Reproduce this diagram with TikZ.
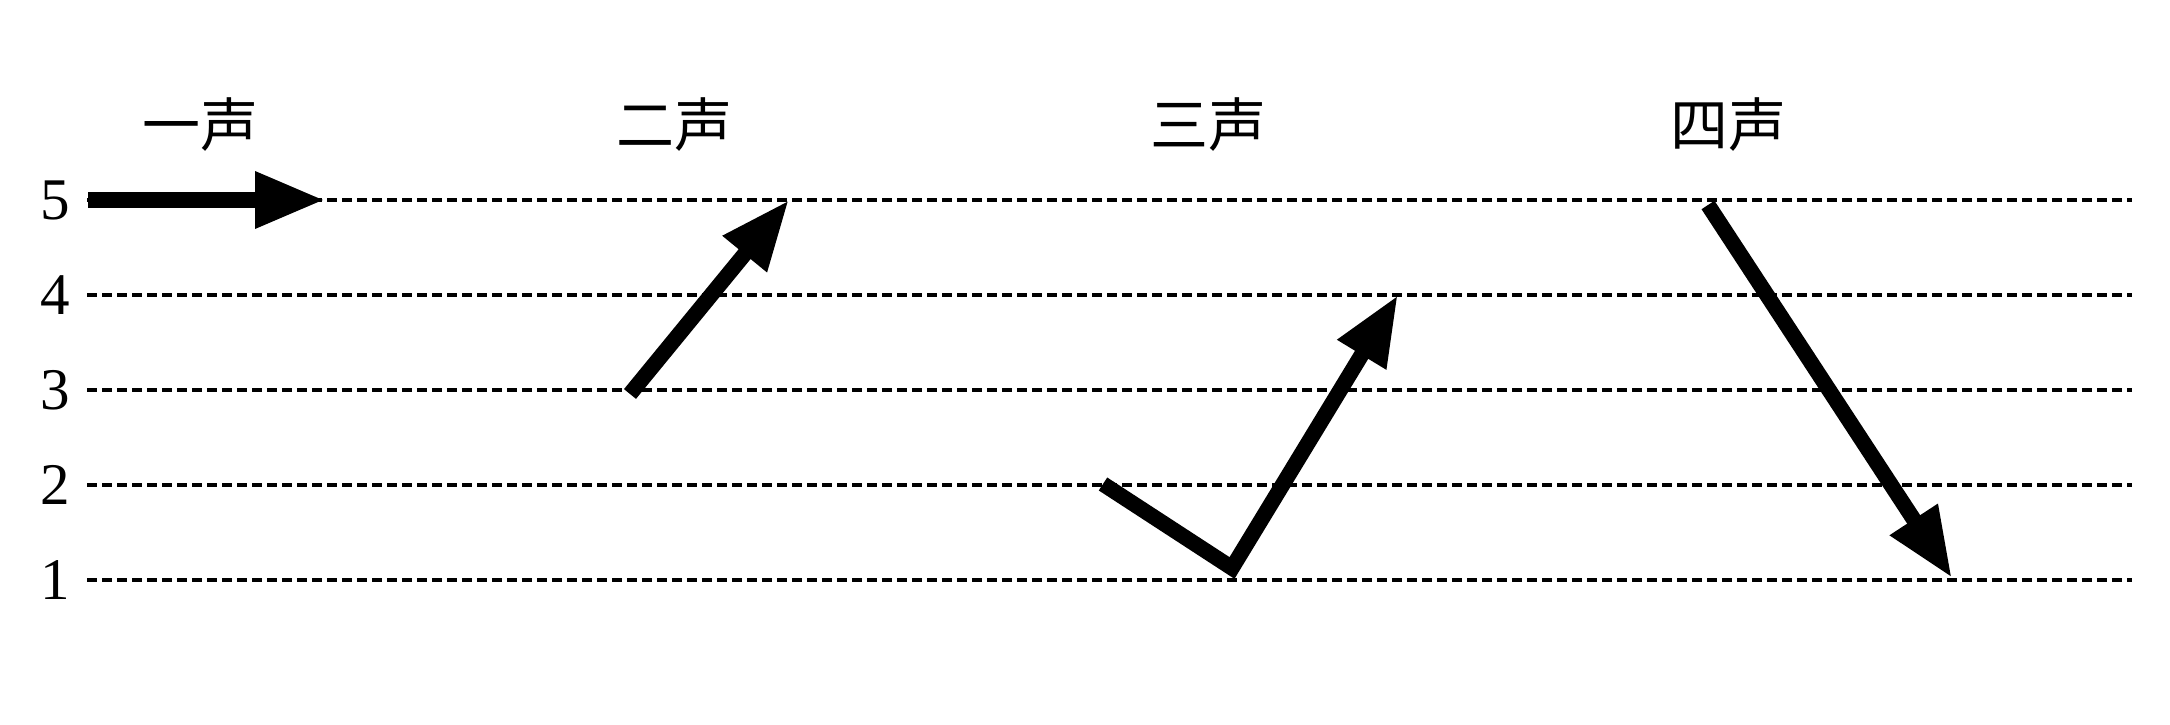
\documentclass[tikz,border=0pt]{standalone}
\usepackage{fontspec}
\setmainfont{Liberation Serif}
\newfontfamily\cjk{Noto Sans CJK SC}
\usetikzlibrary{arrows.meta}
\tikzstyle{level}=[line width=.035cm,dash pattern=on .10cm off .05cm]
\tikzstyle{tonehead}=[>/.tip={Triangle[length=.70cm,width=.53cm]}]
\tikzstyle{tone}=[line width=.155cm,tonehead,->,line join=miter]
\tikzstyle{tonename}=[font=\cjk\fontsize{16.5}{19}\selectfont,inner sep=0pt]
\tikzstyle{num}=[font=\fontsize{16.8}{20}\selectfont,inner sep=0pt]
\begin{document}
\begin{tikzpicture}
	\useasboundingbox (0,0) rectangle (21.7,7.25);
	% pitch levels
	\foreach \n/\y in {5/5.25,4/4.30,3/3.35,2/2.40,1/1.45} {
		\node[num] (n\n) at (.55,\y) {\n};
		\coordinate (l\n) at (.87,\y);
		\coordinate (r\n) at (21.32,\y);
		\draw[level] (l\n) -- (r\n);
	}
	% tone names
	\node[tonename] (t1) at (2.00,6.00) {一声};
	\node[tonename] (t2) at (6.74,6.00) {二声};
	\node[tonename] (t3) at (12.08,6.00) {三声};
	\node[tonename] (t4) at (17.28,6.00) {四声};
	% contours
	\coordinate (a1) at (.88,5.25);  \coordinate (b1) at (3.25,5.25);
	\coordinate (a2) at (6.30,3.31); \coordinate (b2) at (7.89,5.25);
	\coordinate (a3) at (11.03,2.41); \coordinate (m3) at (12.32,1.57); \coordinate (b3) at (13.98,4.30);
	\coordinate (a4) at (17.08,5.20); \coordinate (b4) at (19.52,1.47);
	\draw[tone] (a1) -- (b1);
	\draw[tone] (a2) -- (b2);
	\draw[tone] (a3) -- (m3) -- (b3);
	\draw[tone] (a4) -- (b4);
\end{tikzpicture}
\end{document}
